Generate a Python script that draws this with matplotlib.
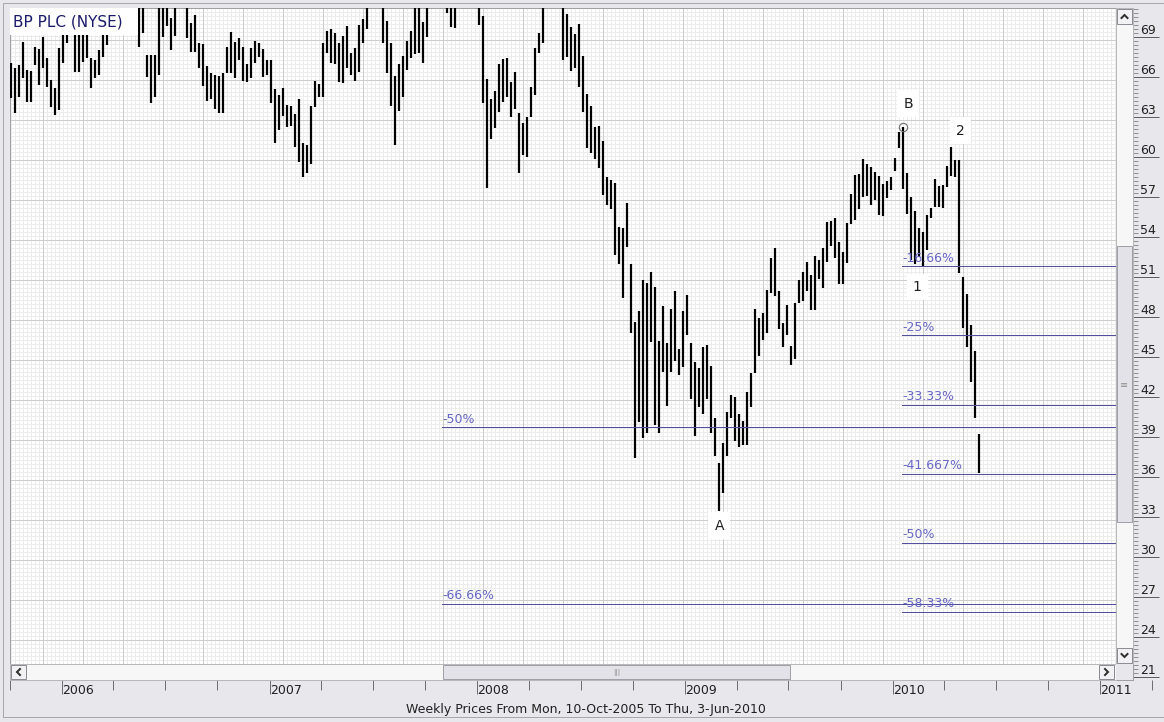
import numpy as np
import pandas as pd
import matplotlib
matplotlib.use('Agg')
import matplotlib.pyplot as plt
import matplotlib.dates as mdates
from matplotlib.patches import Rectangle
from matplotlib.lines import Line2D

# weekly high / low of BP PLC (NYSE), one bar per week, first bar Fri 14-Oct-2005
first_week = '2005-10-14'

highs = [
    67.06, 66.69, 66.94, 68.69, 66.56, 66.49, 68.31, 68.11, 69.06, 67.49,
    65.81, 65.19, 68.19, 70.3, 70.6, 71.0, 70.2, 70.1, 70.3, 70.2,
    67.44, 67.31, 68.06, 70.0, 70.4, 70.8, 71.0, 71.0, 70.9, 71.1,
    71.0, 70.9, 72.5, 72.5, 67.69, 67.69, 67.69, 72.0, 72.3, 72.4,
    70.44, 72.0, 73.0, 73.2, 72.2, 70.06, 70.69, 68.56, 68.49, 66.86,
    66.36, 66.19, 66.11, 66.31, 68.26, 69.39, 68.69, 68.94, 68.26, 67.01,
    68.19, 68.74, 68.56, 68.14, 67.31, 67.31, 65.11, 64.69, 65.19, 63.94,
    63.86, 63.26, 64.36, 61.11, 60.94, 63.86, 65.76, 65.51, 68.56, 69.51,
    69.64, 69.31, 68.61, 69.11, 69.86, 67.86, 68.24, 69.94, 70.39, 72.0,
    73.5, 73.8, 74.0, 72.5, 70.24, 68.61, 66.11, 67.01, 67.61, 68.76,
    69.49, 72.0, 72.1, 70.19, 72.3, 74.0, 75.0, 75.5, 74.5, 73.0,
    72.8, 72.6, 74.0, 75.0, 76.0, 75.5, 74.0, 73.0, 70.61, 65.86,
    64.36, 65.01, 67.01, 67.36, 67.44, 65.69, 66.44, 63.31, 62.61, 63.06,
    65.26, 68.19, 69.36, 72.0, 74.5, 75.5, 76.0, 75.0, 72.5, 70.76,
    69.76, 69.26, 70.01, 67.61, 64.76, 63.86, 62.31, 62.36, 61.24, 58.51,
    58.31, 58.06, 54.81, 54.69, 56.61, 52.01, 47.69, 48.49, 50.81, 50.61,
    51.39, 50.31, 46.26, 48.86, 46.11, 48.64, 49.99, 45.61, 48.49, 49.69,
    46.11, 44.69, 44.19, 45.81, 45.94, 44.36, 40.49, 37.06, 38.56, 40.89,
    42.19, 42.01, 40.76, 40.26, 42.39, 43.81, 48.64, 47.94, 48.31, 50.06,
    52.44, 53.19, 49.99, 47.56, 48.94, 45.86, 49.06, 50.81, 51.44, 52.14,
    51.19, 52.61, 52.31, 53.19, 55.19, 55.26, 55.49, 53.69, 52.94, 55.11,
    57.26, 58.69, 58.76, 59.86, 59.51, 59.26, 58.94, 58.61, 58.01, 58.26,
    58.51, 59.94, 61.94, 62.31, 58.81, 57.06, 56.01, 54.69, 54.44, 55.69,
    56.19, 58.36, 57.86, 57.94, 59.36, 60.81, 59.81, 59.81, 51.06, 49.76,
    47.44, 45.51, 39.26,
]

lows = [
    64.49, 63.31, 64.51, 65.94, 64.19, 64.14, 66.94, 65.44, 66.69, 65.26,
    63.81, 63.19, 63.56, 67.06, 68.56, 69.4, 66.44, 66.44, 67.19, 67.44,
    65.19, 65.94, 66.19, 67.56, 68.44, 69.4, 69.6, 69.4, 69.5, 69.6,
    69.5, 69.4, 68.31, 69.31, 66.06, 64.06, 64.56, 66.19, 69.01, 69.86,
    68.06, 69.11, 71.4, 71.5, 68.94, 67.94, 67.94, 66.69, 65.36, 64.26,
    64.39, 63.64, 63.36, 63.36, 66.36, 66.36, 65.94, 67.31, 65.76, 65.69,
    65.94, 67.06, 67.56, 66.06, 66.19, 64.11, 61.11, 62.06, 63.11, 62.31,
    62.36, 60.81, 59.69, 58.51, 58.86, 59.51, 63.76, 64.56, 64.56, 67.86,
    67.06, 66.99, 65.69, 65.56, 66.74, 66.19, 65.76, 66.44, 68.61, 69.61,
    71.4, 71.6, 71.5, 68.61, 66.31, 63.86, 60.94, 63.51, 64.56, 66.56,
    67.44, 67.76, 67.86, 67.11, 69.06, 71.5, 72.0, 72.5, 71.8, 70.81,
    69.81, 69.69, 71.4, 72.0, 72.5, 72.2, 71.5, 69.94, 64.06, 57.69,
    61.36, 62.24, 63.44, 64.19, 64.56, 63.01, 63.61, 58.81, 60.19, 60.06,
    63.01, 64.69, 67.86, 68.56, 71.5, 72.3, 72.8, 72.0, 67.31, 67.56,
    66.51, 66.69, 65.26, 63.44, 60.69, 60.36, 59.86, 59.19, 57.19, 56.44,
    56.11, 52.69, 52.01, 49.44, 53.26, 46.86, 37.44, 40.19, 38.94, 39.36,
    46.19, 39.94, 39.31, 43.94, 41.36, 43.94, 44.76, 43.69, 44.31, 46.69,
    41.86, 39.11, 41.26, 40.76, 41.86, 39.31, 37.61, 33.51, 34.86, 37.61,
    40.44, 38.76, 38.31, 38.44, 38.44, 41.31, 43.86, 45.11, 46.31, 46.86,
    49.86, 49.61, 47.11, 45.81, 46.69, 44.44, 44.86, 49.11, 49.26, 49.99,
    48.56, 48.56, 50.86, 50.19, 52.19, 53.36, 52.44, 50.51, 50.51, 52.06,
    55.01, 55.31, 56.11, 57.01, 57.11, 56.44, 56.81, 55.69, 55.61, 56.94,
    57.56, 59.01, 60.69, 57.61, 55.76, 52.31, 52.01, 52.56, 51.86, 53.06,
    55.44, 56.26, 56.31, 56.19, 57.76, 58.61, 58.51, 51.31, 47.19, 45.81,
    43.19, 40.44, 36.31,
]

# retracement sets
fib_right_base = 62.2
fib_right_start = '2010-01-20'
fib_right_pcts = [16.66, 25, 33.33, 41.667, 50, 58.33]
fib_right_labels = ['-16.66%', '-25%', '-33.33%', '-41.667%', '-50%', '-58.33%']

fib_left_base = 79.5
fib_left_start = '2007-11-08'
fib_left_pcts = [50, 66.66]
fib_left_labels = ['-50%', '-66.66%']

# wave labels: text, bar index, anchor, offset in pixels
wave_labels = [('A', 177, 'low', 0, -15), ('B', 223, 'high', 5, 23),
               ('1', 226, 'low', 2, -23), ('2', 235, 'high', 9, 16)]
circle_bar = 223

y_ticks = list(range(21, 70, 3))
years = [2006, 2007, 2008, 2009, 2010, 2011]

title = 'BP PLC (NYSE)'
footer = 'Weekly Prices From Mon, 10-Oct-2005 To Thu, 3-Jun-2010'

# ---------------------------------------------------------------- layout
W, H, DPI = 1164, 722, 100
PT = 72 / DPI  # points per pixel
BG = '#e8e8ec'
FIB = '#50509c'

PX_PER_DAY = 1044 / 1826
JAN06 = mdates.date2num(pd.Timestamp('2006-01-01'))


def frac(x0, y0, x1, y1):
    return [x0 / W, 1 - y1 / H, (x1 - x0) / W, (y1 - y0) / H]


def px_date(x):
    return JAN06 + (x - 56) / PX_PER_DAY


def px_price(y):
    return 71.81 - 0.075 * y


def box(x0, y0, x1, y1, fc, ec='none', z=6):
    fig.add_artist(Rectangle((x0 / W, 1 - y1 / H), (x1 - x0) / W, (y1 - y0) / H,
                             transform=fig.transFigure, facecolor=fc, edgecolor=ec,
                             lw=PT, zorder=z))


def chevron(cx, cy, d, s=3):
    pts = {'l': ([cx + s / 2, cx - s / 2, cx + s / 2], [cy - s, cy, cy + s]),
           'r': ([cx - s / 2, cx + s / 2, cx - s / 2], [cy - s, cy, cy + s]),
           'u': ([cx - s, cx, cx + s], [cy + s / 2, cy - s / 2, cy + s / 2]),
           'd': ([cx - s, cx, cx + s], [cy - s / 2, cy + s / 2, cy - s / 2])}[d]
    xs = np.array(pts[0]) / W
    ys = 1 - np.array(pts[1]) / H
    fig.add_artist(Line2D(xs, ys, transform=fig.transFigure, color='#303030',
                          lw=2 * PT, zorder=8, solid_joinstyle='miter'))


fig = plt.figure(figsize=(W / DPI, H / DPI), dpi=DPI, facecolor=BG)

# pixel grid behind the chart
bg = fig.add_axes(frac(10, 8, 1133, 680))
bg.set_xlim(10, 1133)
bg.set_ylim(680, 8)
bg.set_facecolor('white')
bg.set_xticks([])
bg.set_yticks([])
for s in bg.spines.values():
    s.set_visible(False)
bg.vlines(np.arange(11.3, 1133, 4), 8, 680, colors='#ececec', lw=PT, antialiased=False)
bg.hlines(np.arange(12, 680, 4), 10, 1133, colors='#ececec', lw=PT, antialiased=False)
bg.vlines(np.arange(43.3, 1133, 40), 8, 680, colors='#cdcdcd', lw=PT, antialiased=False)
bg.hlines(np.arange(40, 680, 40), 10, 1133, colors='#cdcdcd', lw=PT, antialiased=False)

# price chart
ax = fig.add_axes(frac(10, 8, 1133, 680), facecolor='none')
ax.set_xlim(px_date(10), px_date(1133))
ax.set_ylim(px_price(680), px_price(8))

dates = mdates.date2num(pd.date_range(first_week, periods=len(highs), freq='7D'))
ax.vlines(dates, lows, highs, colors='black', lw=2.2 * PT, snap=True, zorder=3)

x_end = px_date(1133)
for base, start, pcts, labels in [(fib_left_base, fib_left_start, fib_left_pcts, fib_left_labels),
                                  (fib_right_base, fib_right_start, fib_right_pcts, fib_right_labels)]:
    xs = mdates.date2num(pd.Timestamp(start))
    for pct, lab in zip(pcts, labels):
        lvl = base * (1 - pct / 100)
        ax.hlines(lvl, xs, x_end, colors=FIB, lw=PT, antialiased=False, zorder=4)
        ax.text(xs, lvl + 0.12, lab, fontsize=9, color='#6666c6', ha='left', va='bottom', zorder=5)

for txt, i, anchor, dx, dy in wave_labels:
    v = highs[i] if anchor == 'high' else lows[i]
    ax.annotate(txt, xy=(dates[i], v), xytext=(dx, dy), textcoords='offset pixels',
                ha='center', va='center', fontsize=10, color='#202020', zorder=6,
                bbox=dict(boxstyle='square,pad=0.45', fc='white', ec='none'))
ax.plot(dates[circle_bar], highs[circle_bar], 'o', ms=6, mfc='none', mec='#707070',
        mew=0.8, zorder=6)

ax.yaxis.tick_right()
ax.set_yticks(y_ticks)
ax.set_yticks(np.arange(21, 71.2, 0.3), minor=True)
ax.tick_params(axis='y', which='major', length=26 * PT, width=PT, color='#606060',
               pad=-19 * PT, labelsize=9, labelcolor='#202020')
ax.tick_params(axis='y', which='minor', length=5 * PT, width=PT, color='#909090')
for lbl in ax.get_yticklabels():
    lbl.set_va('bottom')
ax.tick_params(axis='x', which='both', bottom=False, labelbottom=False)
for s in ax.spines.values():
    s.set_color('#a0a0a0')
    s.set_linewidth(PT)

# date axis under the scrollbar
dax = fig.add_axes(frac(10, 679, 1164, 680), facecolor='none')
dax.set_xlim(px_date(10), px_date(1164))
dax.set_ylim(0, 1)
dax.set_yticks([])
for s in dax.spines.values():
    s.set_visible(False)
dax.set_xticks([mdates.date2num(pd.Timestamp(f'{y}-01-01')) for y in years],
               labels=[str(y) for y in years])
dax.set_xticks(mdates.date2num(pd.date_range('2005-10-01', '2011-04-01', freq='QS')), minor=True)
dax.tick_params(axis='x', which='major', length=14 * PT, width=PT, color='#707070',
                pad=-10 * PT, labelsize=9, labelcolor='#202020')
dax.tick_params(axis='x', which='minor', length=10 * PT, width=PT, color='#707070')
for lbl in dax.get_xticklabels():
    lbl.set_ha('left')

fig.text(586 / W, 1 - 710 / H, footer, ha='center', va='center', fontsize=9, color='#202020')

# title box
box(10, 8, 138, 35, 'white', z=6)
fig.text(13 / W, 1 - 22 / H, title, ha='left', va='center', fontsize=11, color='#1a1a6a', zorder=7)

# horizontal scrollbar
box(10, 664, 1116, 680, '#f7f7f7', '#b8b8b8')
box(11, 665, 26, 679, '#f2f2f4', '#8c8c94', z=7)
box(1099, 665, 1114, 679, '#f2f2f4', '#8c8c94', z=7)
box(443, 665, 790, 679, '#e2e2e8', '#a0a0a8', z=7)
chevron(18.5, 672, 'l')
chevron(1106.5, 672, 'r')
fig.text(617 / W, 1 - 672 / H, '|||', ha='center', va='center', fontsize=5, color='#909090', zorder=8)

# vertical scrollbar
box(1116, 8, 1133, 664, '#f7f7f7', '#b8b8b8')
box(1117, 9, 1132, 24, '#f2f2f4', '#8c8c94', z=7)
box(1117, 648, 1132, 663, '#f2f2f4', '#8c8c94', z=7)
box(1117, 246, 1132, 522, '#e2e2e8', '#a0a0a8', z=7)
chevron(1124.5, 16.5, 'u')
chevron(1124.5, 655.5, 'd')
fig.text(1124.5 / W, 1 - 385 / H, '\u2261', ha='center', va='center', fontsize=7, color='#909090', zorder=8)
box(1116, 664, 1133, 680, BG, z=6)

# outer frame
box(3, 3, 1170, 717, 'none', '#a8a8a8', z=9)

fig.savefig('out.png', dpi=DPI, facecolor=BG)
